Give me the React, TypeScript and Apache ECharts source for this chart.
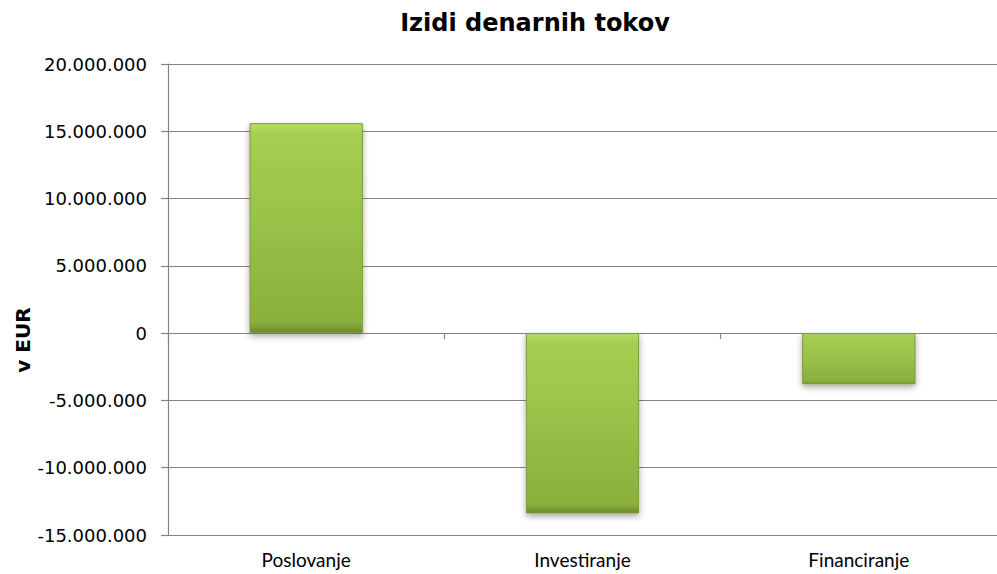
import React, { useEffect, useRef } from "react";
import * as echarts from "echarts";

const categories = ["Poslovanje", "Investiranje", "Financiranje"];
const values = [15600000, -13400000, -3800000];
const yTicks = { min: -15000000, max: 20000000, interval: 5000000 };
const titleText = "Izidi denarnih tokov";
const yName = "v EUR";

function fmt(v: number): string {
  const s = String(Math.abs(Math.round(v))).replace(/\B(?=(\d{3})+(?!\d))/g, ".");
  return (v < 0 ? "-" : "") + s;
}

export default function App() {
  const ref = useRef<HTMLDivElement>(null);
  useEffect(() => {
    if (!ref.current) return;
    const chart = echarts.init(ref.current, null, { renderer: "svg" });
    const gray = "#848484";
    chart.setOption({
      animation: false,
      backgroundColor: "#ffffff",
      title: {
        text: titleText,
        left: 530,
        top: 6,
        textAlign: "center",
        textStyle: { fontFamily: "DejaVu Sans", fontWeight: "bold", fontSize: 24, color: "#000" },
      },
      graphic: [
        {
          type: "text",
          x: 23,
          y: 340,
          rotation: Math.PI / 2,
          style: {
            text: yName,
            fontFamily: "DejaVu Sans",
            fontWeight: "bold",
            fontSize: 20,
            fill: "#000",
            textAlign: "center",
            textVerticalAlign: "middle",
          },
        },
      ],
      grid: { left: 168, right: -8, top: 64, bottom: 39, containLabel: false },
      xAxis: [
        {
          type: "category",
          data: categories,
          position: "bottom",
          axisLine: { show: true, onZero: true, lineStyle: { color: gray, width: 1.2 } },
          axisTick: { show: true, length: 6, alignWithLabel: false, lineStyle: { color: gray, width: 1.2 } },
          axisLabel: { show: false },
          splitLine: { show: false },
        },
        {
          type: "category",
          data: categories,
          position: "bottom",
          axisLine: { show: false, onZero: false },
          axisTick: { show: false },
          axisLabel: {
            show: true,
            margin: 15,
            fontFamily: "Lato",
            fontSize: 19,
            color: "#000",
          },
        },
      ],
      yAxis: {
        type: "value",
        min: yTicks.min,
        max: yTicks.max,
        interval: yTicks.interval,
        axisLine: { show: true, lineStyle: { color: gray, width: 1.2 } },
        axisTick: { show: true, length: 7, lineStyle: { color: gray, width: 1.2 } },
        splitLine: { show: true, lineStyle: { color: gray, width: 1.2 } },
        axisLabel: {
          margin: 21,
          fontFamily: "DejaVu Sans",
          fontSize: 18,
          color: "#000",
          formatter: (v: number) => fmt(v),
        },
      },
      series: [
        {
          type: "bar",
          xAxisIndex: 0,
          data: values,
          barWidth: "41%",
          itemStyle: {
            color: new echarts.graphic.LinearGradient(0, 0, 0, 1, [
              { offset: 0, color: "#b6de66" },
              { offset: 0.05, color: "#a5ce52" },
              { offset: 0.5, color: "#98c147" },
              { offset: 0.95, color: "#8aaf3d" },
              { offset: 1, color: "#6c8a2b" },
            ]),
            borderColor: "#7a9b33",
            borderWidth: 1,
            shadowColor: "rgba(0,0,0,0.35)",
            shadowBlur: 6,
            shadowOffsetY: 3,
          },
        },
      ],
    });
    return () => chart.dispose();
  }, []);
  return (
    <div
      ref={ref}
      style={{ position: "absolute", left: 0, top: 0, width: 997, height: 574 }}
    />
  );
}
